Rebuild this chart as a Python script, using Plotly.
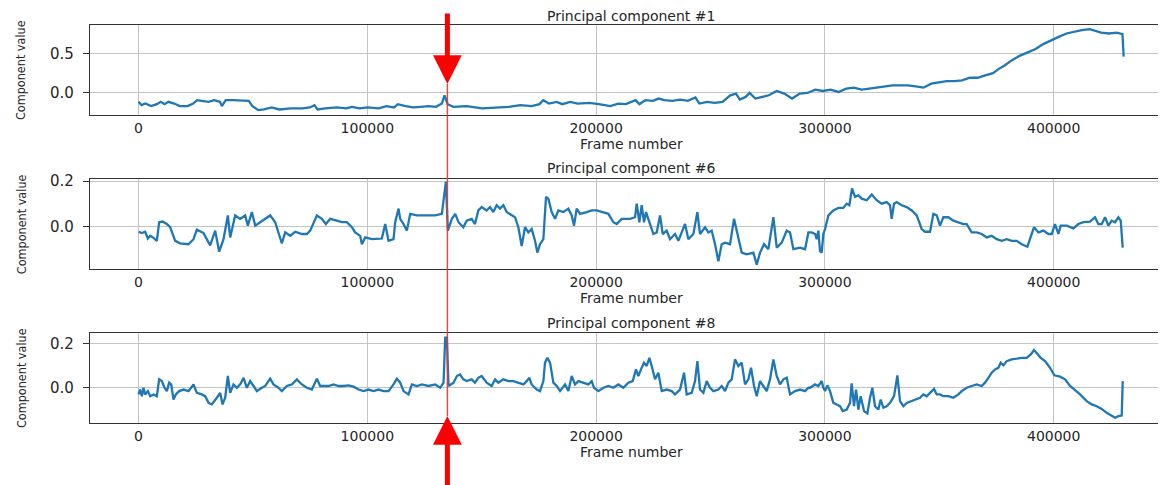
import plotly.graph_objects as go

# ---------------- data ----------------
pc1_frames = [0, 1340, 3010, 5520, 8030, 9700, 11370, 13040, 15550, 18060, 21400, 23910, 25580,
              28090, 30600, 33110, 35610, 36450, 38120, 41470, 44810, 48150, 49830, 52330, 54840,
              58190, 61530, 66550, 71560, 74910, 76910, 78250, 81600, 86610, 90790, 93300, 96640,
              99990, 105000, 108350, 111690, 113360, 116710, 120050, 123390, 126740, 130080,
              132590, 133760, 135100, 137610, 143460, 150150, 156830, 161850, 166870, 171880,
              175230, 176900, 179410, 182750, 185260, 188600, 191950, 196960,
              201190, 206260, 209640, 213020, 217240, 218930, 221460, 224840, 227380, 229910,
              233290, 236660, 238350, 240040, 243420, 245110, 248490, 251860, 255240, 258620,
              261150, 262840, 265380, 267070, 269600, 272130, 275510, 278890, 282270, 285640,
              289020, 292400, 295780, 299160, 302530, 305910, 309290, 312670, 316050, 319420,
              322800, 326180, 329560, 332940, 336310, 339690, 343070, 346450, 349830, 353200,
              356580, 359960, 363340, 366720, 370090, 373470, 376010, 378540, 381920, 385290,
              388670, 392050, 395430, 398810, 402180, 405560, 408940, 412320, 415700, 418230,
              420770, 424140, 427520, 430060, 430560]
pc1_values = [-0.114, -0.157, -0.136, -0.169, -0.144, -0.114, -0.144, -0.114, -0.136, -0.169, -0.169,
              -0.136, -0.093, -0.102, -0.114, -0.093, -0.114, -0.169, -0.093, -0.093, -0.093, -0.102,
              -0.169, -0.220, -0.212, -0.186, -0.212, -0.199, -0.199, -0.186, -0.157, -0.212, -0.199,
              -0.186, -0.199, -0.178, -0.199, -0.186, -0.199, -0.169, -0.186, -0.144, -0.169, -0.186,
              -0.178, -0.169, -0.178, -0.136, -0.030, -0.144, -0.178, -0.169, -0.199, -0.186, -0.178,
              -0.157, -0.169, -0.144, -0.093, -0.136, -0.114, -0.144, -0.114, -0.136, -0.127,
              -0.144, -0.169, -0.136, -0.144, -0.093, -0.144, -0.093, -0.102, -0.072, -0.093,
              -0.102, -0.085, -0.093, -0.102, -0.059, -0.136, -0.114, -0.127, -0.114, -0.030,
              -0.008, -0.085, -0.051, 0.000, -0.072, -0.051, -0.030, 0.025, -0.008, -0.072,
              -0.008, 0.000, 0.042, 0.025, 0.042, 0.013, 0.055, 0.068, 0.042, 0.055,
              0.068, 0.076, 0.097, 0.097, 0.097, 0.085, 0.068, 0.119, 0.140, 0.153,
              0.153, 0.161, 0.195, 0.195, 0.225, 0.254, 0.309, 0.352, 0.424, 0.479,
              0.521, 0.564, 0.627, 0.678, 0.720, 0.763, 0.788, 0.805, 0.818, 0.797,
              0.775, 0.763, 0.775, 0.754, 0.466]

pc6_frames = [0, 1460, 2910, 4080, 5100, 6560, 8010, 9030, 10490, 12390, 13840, 16030, 18210,
              21860, 24040, 25500, 28410, 29870, 31330, 33510, 35260, 37150, 39050, 40070, 42250,
              44440, 46620, 47790, 49540, 51000, 53180, 57550, 59740, 61200, 62650, 64100, 66300,
              68480, 71400, 73580, 75040, 77950, 80140, 81880, 83780, 86690, 88880, 91060, 93250,
              94700, 96890, 97620, 99080, 101990, 106360, 107820, 109280, 111460, 112190, 113650,
              114370, 115830, 117290, 118750, 121660, 123850, 126760, 129670, 132590, 134340,
              135210, 136960, 138420, 139870,
              141970, 143430, 145620, 147070, 148530, 149990, 152170, 153630, 155090, 156540,
              158000, 159460, 160920, 163100, 164560, 166020, 167470, 168930, 170390, 171840,
              173300, 174320, 175480, 176940, 178110, 179130, 180590, 182040, 183500, 185680,
              187870, 189330, 190350, 191510, 192970, 195880, 198070, 200250, 203170, 205350,
              207540, 209000, 211180, 214820, 217010, 217740, 218900, 219920, 220940, 221820,
              223570, 225030, 226480, 227940, 229110, 230850, 232310, 234500, 235950, 237410,
              238860, 240320, 242510, 244260, 245420, 247610, 249070, 250530, 251980, 253440,
              254890, 256350, 258530, 260280, 261740, 263630, 265820, 268730, 270190, 271650,
              273400, 275290, 277480, 278940, 281120, 283300, 284760, 286220, 289130, 291320,
              292780,
              294220, 295680, 296410, 297130, 297860, 298590, 299320, 300050, 301510, 303690,
              305880, 308060, 309520, 310680, 311850, 313160, 314620, 316080, 318260, 320450,
              322630, 324820, 327000, 328460, 329190, 330210, 331370, 333560, 335740, 337930,
              340120, 342300, 343760, 345940, 347400, 348860, 350320, 351770, 353960, 356140,
              358330, 360510, 361970, 364160, 366340, 368530, 370710, 372900, 375080, 377270,
              379450, 381640, 383830, 386010, 388490, 389650, 391400, 393300, 395480, 397670,
              399120, 400580, 402040, 403060, 405680, 408600, 410780, 412970, 415880, 418070,
              419520, 420980, 422440, 423890, 425350, 426810, 428260, 429280, 430160]
pc6_values = [-0.024, -0.030, -0.024, -0.054, -0.042, -0.051, -0.064, 0.018, 0.021, 0.010, -0.004,
              -0.064, -0.075, -0.079, -0.057, -0.015, -0.030, -0.057, -0.084, -0.019, -0.112, -0.057,
              0.048, -0.049, 0.048, 0.033, 0.048, 0.003, 0.063, 0.003, 0.018, 0.048, 0.018, -0.027,
              -0.076, -0.027, -0.042, -0.024, -0.034, -0.034, -0.019, 0.048, 0.033, 0.010, 0.033,
              0.025, 0.018, 0.018, -0.004, -0.027, -0.042, -0.079, -0.049, -0.057, -0.054, 0.010,
              -0.064, -0.057, 0.018, 0.078, 0.033, 0.010, -0.019, 0.055, 0.048, 0.048, 0.048, 0.048,
              0.055, 0.197, -0.019, 0.033, 0.055, 0.018,
              -0.004, 0.025, 0.033, 0.010, 0.070, 0.085, 0.070, 0.085, 0.063, 0.093,
              0.078, 0.093, 0.063, 0.048, 0.040, -0.004, -0.087, -0.004, -0.027, -0.012,
              -0.064, -0.116, -0.079, -0.057, 0.130, 0.122, 0.063, 0.033, 0.070, 0.063,
              0.078, 0.048, 0.003, 0.078, 0.055, 0.063, 0.070, 0.070, 0.063, 0.055,
              0.018, 0.010, 0.033, 0.033, 0.040, 0.100, 0.018, 0.093, 0.018, 0.063,
              0.010, -0.034, -0.027, 0.048, -0.034, -0.019, -0.057, -0.034, -0.064, -0.027,
              0.010, -0.057, -0.034, 0.063, -0.034, -0.004, -0.027, -0.019, -0.079, -0.154,
              -0.079, -0.072, -0.079, 0.033, -0.027, -0.116, -0.124, -0.116, -0.169, -0.116,
              -0.079, -0.101, 0.040, -0.094, -0.072, -0.019, -0.027, -0.101, -0.094, -0.101,
              -0.027,
              -0.027, -0.034, -0.057, -0.019, -0.109, -0.116, -0.034, -0.012, 0.048, 0.070,
              0.081, 0.081, 0.100, 0.093, 0.167, 0.130, 0.137, 0.122, 0.115, 0.140,
              0.115, 0.100, 0.107, 0.093, 0.033, 0.100, 0.107, 0.093, 0.085, 0.070,
              0.048, -0.012, -0.024, -0.024, 0.055, 0.048, 0.003, 0.040, 0.040, 0.025,
              0.018, 0.010, 0.010, -0.027, -0.027, -0.034, -0.049, -0.042, -0.057, -0.064,
              -0.057, -0.064, -0.064, -0.079, -0.090, -0.057, -0.004, -0.027, -0.019, -0.034,
              -0.034, 0.010, -0.034, 0.003, 0.003, -0.009, 0.010, 0.018, 0.021, 0.040,
              0.010, 0.010, 0.040, 0.003, 0.025, 0.018, 0.040, 0.025, -0.094]

pc8_frames = [0, 730, 1460, 2190, 2910, 4080, 5100, 6560, 8010, 9030, 10200, 11360, 12380, 13400,
              14280, 15300, 16320, 17780, 19670, 21860, 24040, 25500, 27680, 29140, 30600, 32050,
              34240, 35700, 36720, 37880, 39050, 40070, 41520, 42980, 44440, 45900, 47350, 48810,
              50270, 51720, 53910, 55370, 57550, 59010, 61190, 62650, 64840, 67020, 69210, 71390,
              73580, 75760, 77950, 79410, 80860, 83050, 85230, 87420, 89610, 91790, 93980, 96160,
              98350, 100530, 102720, 104900, 107090, 109280, 111460, 112920, 114380, 115830,
              118020, 119480, 121660, 123850, 126760, 129670, 131860, 133320, 134040, 134770,
              135500, 137690, 139140,
              140520, 141970, 143430, 145620, 147070, 148530, 149990, 152170, 154360, 155820,
              157270, 159460, 161640, 163830, 166010, 168200, 169660, 170820, 171840, 174030,
              175490, 176940, 177670, 178690, 179860, 181310, 182770, 184230, 186410, 187870,
              189330, 190780, 192240, 194430, 196610, 198070, 199090, 200980, 203170, 205350,
              207540, 209720, 211910, 214090, 215990, 217450, 218470, 219630, 220940, 222110,
              223270, 224290, 225750, 227210, 228670, 230850, 233040, 234490, 236680, 238430,
              239590, 241780, 243240, 244260, 245420, 246880, 248340, 249790, 251250, 253440,
              254890, 256350, 257810, 259260, 260720, 262180, 263630, 265090, 266550, 267710,
              269030, 270190, 271650, 273100, 274560, 276020, 277480, 278930, 280390, 281850,
              283300, 284760, 286950, 289130, 291320, 292780,
              293490, 295680, 297130, 298590, 299320, 300050, 301070, 302230, 303690, 305150,
              306610, 307770, 309520, 310980, 311700, 312720, 313600, 314620, 315640, 317100,
              318550, 319720, 320740, 321900, 323360, 324380, 325550, 327000, 328460, 330210,
              331670, 332830, 334290, 335750, 337930, 340120, 341570, 343030, 344490, 345940,
              347690, 348860, 350320, 351770, 353960, 356140, 358330, 359790, 361970, 364160,
              366340, 368530, 369980, 371440, 372900, 374360, 375810, 376830, 378000, 379450,
              381640, 383830, 386010, 388200, 389950, 391400, 392860, 394320, 396210, 398400,
              400290, 402770, 404950, 407140, 409320, 411510, 414420, 416610, 418790, 420980,
              423160, 425350, 426810, 428260, 429720, 430160]
pc8_values = [-0.030, -0.008, -0.038, 0.000, -0.030, -0.015, -0.038, -0.030, -0.038, 0.038, 0.030,
              0.000, -0.015, 0.023, 0.015, -0.053, -0.030, -0.015, -0.008, -0.015, 0.015, -0.023,
              -0.030, -0.038, -0.068, -0.075, -0.045, -0.023, -0.075, -0.045, 0.053, -0.023, 0.015,
              0.000, 0.015, 0.045, 0.000, 0.030, 0.008, -0.015, 0.000, 0.008, 0.041, 0.015, 0.000,
              -0.015, 0.008, 0.015, 0.038, 0.015, 0.000, -0.008, 0.041, 0.008, 0.008, 0.008, 0.015,
              0.008, 0.008, 0.011, 0.005, -0.008, -0.015, -0.008, -0.015, -0.008, -0.015, -0.015,
              0.015, 0.041, 0.023, -0.015, -0.030, 0.015, 0.008, 0.015, 0.008, 0.015, 0.000, 0.023,
              0.226, 0.226, 0.008, 0.023, 0.053,
              0.060, 0.038, 0.030, 0.038, 0.023, 0.045, 0.053, 0.023, 0.008, 0.038,
              0.023, 0.038, 0.030, 0.030, 0.023, 0.015, 0.030, 0.045, 0.015, -0.008,
              -0.015, 0.030, 0.113, 0.135, 0.113, 0.023, 0.008, -0.015, 0.015, -0.015,
              0.053, 0.015, 0.030, 0.023, 0.015, 0.030, 0.000, -0.015, 0.000, 0.008,
              0.000, 0.015, 0.000, 0.023, 0.030, 0.083, 0.053, 0.083, 0.113, 0.098,
              0.135, 0.098, 0.038, 0.068, -0.015, -0.008, -0.015, -0.030, -0.008, 0.068,
              -0.030, -0.023, 0.030, 0.120, -0.008, -0.023, 0.030, 0.000, -0.015, -0.008,
              0.008, -0.015, 0.023, 0.038, 0.128, 0.098, 0.113, 0.015, 0.038, 0.090,
              0.008, -0.038, 0.030, 0.008, -0.015, 0.038, 0.128, 0.053, 0.015, 0.038,
              0.045, -0.030, -0.015, -0.008, -0.015, 0.000,
              0.000, 0.015, 0.008, 0.030, 0.000, -0.015, 0.011, -0.015, -0.068, -0.075,
              -0.083, -0.105, -0.098, -0.068, 0.020, -0.083, -0.008, -0.098, -0.038, -0.105,
              -0.116, -0.045, 0.000, -0.083, -0.098, -0.053, -0.090, -0.083, -0.068, -0.038,
              0.056, -0.060, -0.083, -0.068, -0.060, -0.053, -0.045, -0.030, -0.038, -0.023,
              -0.005, -0.030, -0.030, -0.038, -0.038, -0.045, -0.030, -0.015, 0.000, 0.008,
              0.015, 0.008, 0.023, 0.045, 0.068, 0.083, 0.090, 0.113, 0.101, 0.120,
              0.128, 0.131, 0.135, 0.135, 0.150, 0.170, 0.150, 0.135, 0.120, 0.090,
              0.056, 0.050, 0.038, 0.008, -0.011, -0.030, -0.060, -0.075, -0.083, -0.095,
              -0.113, -0.125, -0.135, -0.128, -0.125, 0.030]

panel_titles = ["Principal component #1", "Principal component #6", "Principal component #8"]
x_title = "Frame number"
y_title = "Component value"
x_tick_values = [0, 100000, 200000, 300000, 400000]
x_tick_labels = ["0", "100000", "200000", "300000", "400000"]
y_tick_values = [[0.0, 0.5], [0.0, 0.2], [0.0, 0.2]]
y_tick_labels = [["0.0", "0.5"], ["0.0", "0.2"], ["0.0", "0.2"]]
marked_frame = 135000

# ---------------- layout helpers ----------------
# The page body adds an 8 px offset, so target screen pixels are shifted by it.
W, H = 1166, 485
OFF = 8
def px_x(p):
    return (p - OFF) / W
def px_y(p):
    return 1 - (p - OFF) / H

x_range = [-21200, 451480]
y_ranges = [[-0.283, 0.872], [-0.1885, 0.2075], [-0.160, 0.248]]
panel_px = [(25, 115), (179.3, 269), (332.7, 423.3)]  # (top, bottom) in screen pixels
title_px = [16, 168.5, 323]
xtitle_px = [144, 298, 452]

tick_font = dict(family="DejaVu Sans", size=14, color="#262626")
label_font = dict(family="DejaVu Sans", size=14, color="#262626")
line_col = "#333333"
grid_col = "#c4c4c4"

series = [(pc1_frames, pc1_values), (pc6_frames, pc6_values), (pc8_frames, pc8_values)]

fig = go.Figure()
annotations = []
layout_axes = {}
for i, (fr, vals) in enumerate(series):
    sfx = "" if i == 0 else str(i + 1)
    fig.add_trace(go.Scatter(x=fr, y=vals, mode="lines",
                             line=dict(color="#1f77b4", width=2.3),
                             xaxis="x" + sfx, yaxis="y" + sfx, showlegend=False,
                             hoverinfo="skip"))
    top, bot = panel_px[i]
    layout_axes["xaxis" + sfx] = dict(
        domain=[px_x(90), px_x(1171.5)], range=x_range, anchor="y" + sfx,
        tickvals=x_tick_values, ticktext=x_tick_labels, tickfont=tick_font,
        showgrid=True, gridcolor=grid_col, gridwidth=1.2,
        showline=True, linecolor=line_col, linewidth=1.4, mirror=True,
        ticks="", zeroline=False, ticklabelstandoff=0, automargin=False)
    layout_axes["yaxis" + sfx] = dict(
        domain=[px_y(bot), px_y(top)], range=y_ranges[i], anchor="x" + sfx,
        tickvals=y_tick_values[i], ticktext=y_tick_labels[i],
        tickfont=dict(family="DejaVu Sans", size=15, color="#262626"),
        showgrid=True, gridcolor=grid_col, gridwidth=1.2,
        showline=True, linecolor=line_col, linewidth=1.4,
        ticks="outside", ticklen=6, tickcolor=line_col, zeroline=False,
        ticklabelstandoff=6, automargin=False)
    annotations.append(dict(text=panel_titles[i], x=px_x(631), y=px_y(title_px[i]),
                            xref="paper", yref="paper", showarrow=False,
                            xanchor="center", yanchor="middle", font=label_font))
    annotations.append(dict(text=x_title, x=px_x(631), y=px_y(xtitle_px[i]),
                            xref="paper", yref="paper", showarrow=False,
                            xanchor="center", yanchor="middle", font=label_font))
    annotations.append(dict(text=y_title, x=px_x(21), y=px_y((top + bot) / 2),
                            xref="paper", yref="paper", showarrow=False, textangle=-90,
                            xanchor="center", yanchor="middle",
                            font=dict(family="DejaVu Sans Condensed, DejaVu Sans, sans-serif",
                                      size=12.5, color="#262626")))

# red arrows pointing at the marked frame
annotations.append(dict(text="", x=marked_frame, y=px_y(84), xref="x", yref="paper",
                        showarrow=True, ax=0, ay=-72, arrowhead=2, arrowsize=1.15,
                        arrowwidth=5, arrowcolor="#ff0000", standoff=0))
annotations.append(dict(text="", x=marked_frame, y=px_y(416), xref="x3", yref="paper",
                        showarrow=True, ax=0, ay=72, arrowhead=2, arrowsize=1.15,
                        arrowwidth=5, arrowcolor="#ff0000", standoff=0))

fig.update_layout(
    width=W, height=H, autosize=False,
    margin=dict(l=0, r=0, t=0, b=0, pad=0, autoexpand=False),
    paper_bgcolor="white", plot_bgcolor="white",
    annotations=annotations,
    shapes=[dict(type="line", xref="x", yref="paper", x0=marked_frame, x1=marked_frame,
                 y0=px_y(416), y1=px_y(84),
                 line=dict(color="rgba(212,62,52,0.9)", width=1.5), layer="above")],
    **layout_axes)

fig.write_html("out.html")
